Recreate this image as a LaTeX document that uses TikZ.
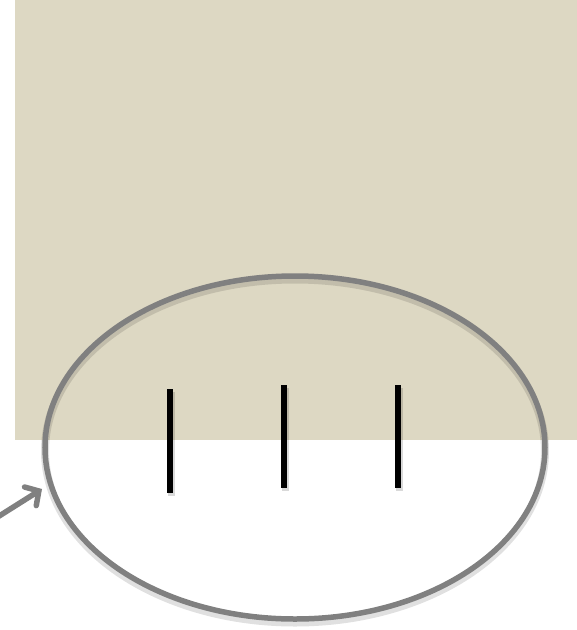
\documentclass[tikz,border=0pt]{standalone}
\usetikzlibrary{shapes.geometric,arrows.meta}
\definecolor{beige}{HTML}{DDD8C3}
\definecolor{ringgray}{HTML}{808080}
\tikzset{
  ring/.style={draw=ringgray, line width=5.5pt, ellipse, minimum width=500pt, minimum height=343pt, inner sep=0pt},
  ringshadow/.style={draw=black, opacity=0.12, line width=8pt, ellipse, minimum width=500pt, minimum height=343pt, inner sep=0pt},
  tick/.style={draw=black, line width=5.5pt},
  tickshadow/.style={draw=black, opacity=0.15, line width=7pt},
  pointer/.style={draw=ringgray, line width=5.5pt, line cap=round, -{Straight Barb[length=10pt,width=22pt,line cap=round]}}
}
\begin{document}
\begin{tikzpicture}[x=1pt,y=-1pt]
\useasboundingbox (0,0) rectangle (577,630);
\fill[beige] (15,0) rectangle (577,440);
% shadows
\node[ringshadow] at (295,451) {};
\draw[tickshadow] (171,392) -- (171,496);
\draw[tickshadow] (285,388) -- (285,491);
\draw[tickshadow] (399,388) -- (399,491);
% ring
\node[ring] (ell) at (295,447.5) {};
% ticks
\coordinate (t1a) at (170,389); \coordinate (t1b) at (170,493);
\coordinate (t2a) at (284,385); \coordinate (t2b) at (284,488);
\coordinate (t3a) at (398,385); \coordinate (t3b) at (398,488);
\draw[tick] (t1a) -- (t1b);
\draw[tick] (t2a) -- (t2b);
\draw[tick] (t3a) -- (t3b);
% pointer
\coordinate (ptail) at (-4,518);
\coordinate (phead) at (42,489);
\draw[pointer] (ptail) -- (phead);
\end{tikzpicture}
\end{document}
